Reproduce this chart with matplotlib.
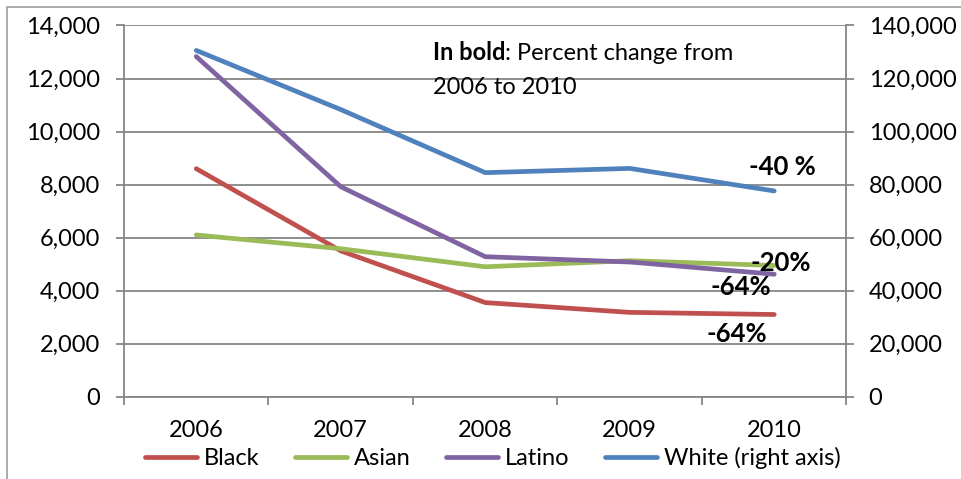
import numpy as np
import matplotlib
matplotlib.use('Agg')
import matplotlib.pyplot as plt
from matplotlib.patches import Rectangle
from matplotlib.ticker import FuncFormatter

plt.rcParams['font.family'] = ['Lato', 'DejaVu Sans']

years = ['2006', '2007', '2008', '2009', '2010']
black = [8600, 5500, 3550, 3180, 3100]
asian = [6100, 5580, 4900, 5130, 4950]
latino = [12830, 7920, 5280, 5080, 4620]
white = [130600, 108300, 84500, 86100, 77600]  # right axis
pct_black = '-64%'
pct_asian = '-20%'
pct_latino = '-64%'
pct_white = '-40 %'

grey = '#868686'
c_black, c_asian, c_latino, c_white = '#C0504D', '#9BBB59', '#8064A2', '#4F81BD'
fs = 17
pfs = 18.5

fig = plt.figure(figsize=(9.62, 4.79), dpi=100)
ax = fig.add_axes([124/962, 1-396.7/479, (846.5-124)/962, (396.7-25.5)/479])
ax2 = ax.twinx()

x = np.arange(1, 6)
l1, = ax.plot(x, black, color=c_black, lw=3.4, solid_capstyle='round', label='Black')
l2, = ax.plot(x, asian, color=c_asian, lw=3.4, solid_capstyle='round', label='Asian')
l3, = ax.plot(x, latino, color=c_latino, lw=3.4, solid_capstyle='round', label='Latino')
l4, = ax2.plot(x, white, color=c_white, lw=3.4, solid_capstyle='round', label='White (right axis)')

ax.set_xlim(0.5, 5.5)
ax.set_ylim(0, 14000)
ax2.set_ylim(0, 140000)
ax.set_yticks(np.arange(0, 14001, 2000))
ax2.set_yticks(np.arange(0, 140001, 20000))
fmt = FuncFormatter(lambda v, p: f'{int(v):,}')
ax.yaxis.set_major_formatter(fmt)
ax2.yaxis.set_major_formatter(fmt)
ax.yaxis.grid(True, color=grey, lw=1.3)
ax.set_axisbelow(True)

ax.set_xticks(np.arange(0.5, 5.6, 1))
ax.set_xticklabels([])
ax.set_xticks(x, minor=True)
ax.set_xticklabels(years, minor=True, fontsize=fs)
ax.tick_params(axis='x', which='minor', length=0, pad=17)
ax.tick_params(axis='x', which='major', length=6, width=1.3, color=grey)
ax.tick_params(axis='y', length=6, width=1.3, color=grey, labelsize=fs, pad=11)
ax2.tick_params(axis='y', length=6, width=1.3, color=grey, labelsize=fs, pad=10)

for a in (ax, ax2):
    for s in a.spines.values():
        s.set_visible(False)
ax.spines['left'].set_visible(True)
ax.spines['bottom'].set_visible(True)
ax2.spines['right'].set_visible(True)
for s in (ax.spines['left'], ax.spines['bottom'], ax2.spines['right']):
    s.set_color(grey)
    s.set_linewidth(1.3)

# percent change labels near the 2010 points
ax.annotate(pct_black, (x[-1], black[-1]), xytext=(-27, -14), textcoords='offset points',
            ha='center', va='center', fontsize=pfs, fontweight='bold')
ax.annotate(pct_latino, (x[-1], latino[-1]), xytext=(-24, -9), textcoords='offset points',
            ha='center', va='center', fontsize=pfs, fontweight='bold')
ax.annotate(pct_asian, (x[-1], asian[-1]), xytext=(5, 2), textcoords='offset points',
            ha='center', va='center', fontsize=pfs, fontweight='bold')
ax2.annotate(pct_white, (x[-1], white[-1]), xytext=(6, 17), textcoords='offset points',
             ha='center', va='center', fontsize=pfs, fontweight='bold')

# note text
t1 = fig.text(433/962, 1-52/479, 'In bold', fontsize=fs, fontweight='bold', va='center')
ax.annotate(': Percent change from', xy=(1, 0), xycoords=t1, va='bottom', ha='left', fontsize=fs)
fig.text(433/962, 1-88/479, '2006 to 2010', fontsize=fs, va='center')

fig.legend(handles=[l1, l2, l3, l4], loc='center', bbox_to_anchor=(493/962, 1-458/479),
           ncol=4, frameon=False, fontsize=fs, handlelength=2.2, handletextpad=0.3,
           columnspacing=1.5)

fig.patches.append(Rectangle((7/962, -0.02), 1.0, 1.02-7/479, transform=fig.transFigure,
                             fill=False, edgecolor='#A6A6A6', lw=1.3))

fig.savefig('out.png', dpi=100)
